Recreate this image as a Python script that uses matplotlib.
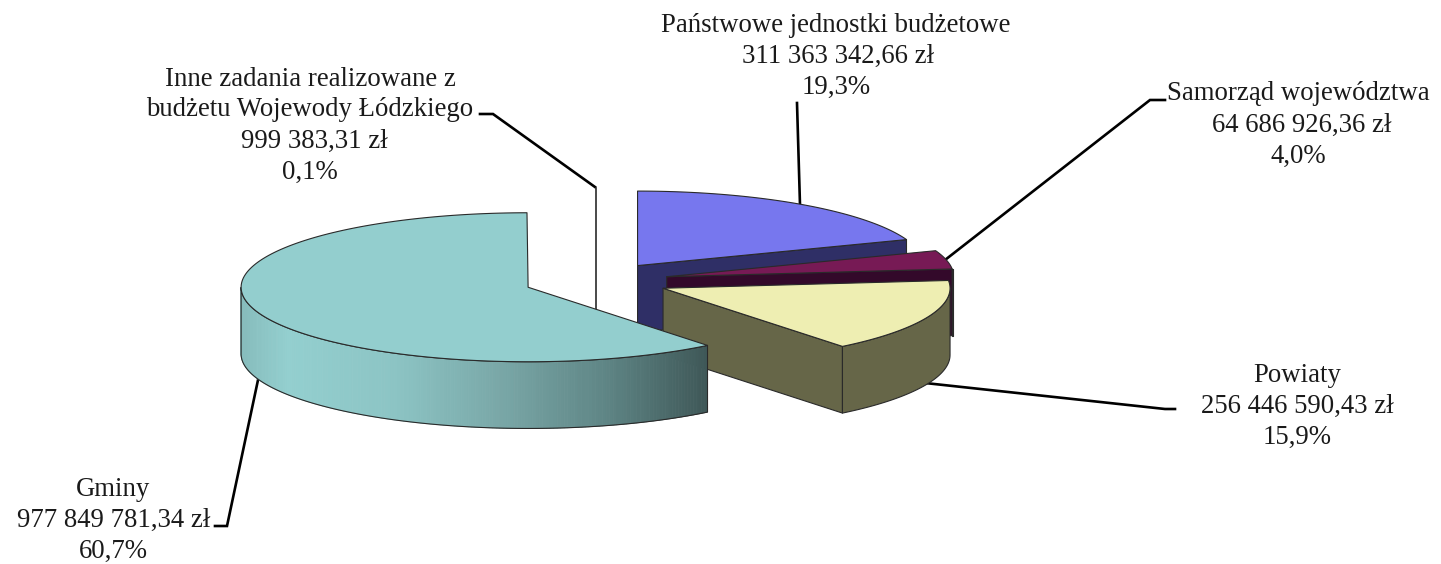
import numpy as np
import matplotlib
matplotlib.use("Agg")
import matplotlib.pyplot as plt
from matplotlib.patches import Polygon
from matplotlib.colors import LinearSegmentedColormap

# ---- data ----
categories = ["Państwowe jednostki budżetowe", "Samorząd województwa", "Powiaty", "Gminy",
              "Inne zadania realizowane z budżetu Wojewody Łódzkiego"]
amounts = [311363342.66, 64686926.36, 256446590.43, 977849781.34, 999383.31]
amount_labels = ["311 363 342,66 zł", "64 686 926,36 zł", "256 446 590,43 zł",
                 "977 849 781,34 zł", "999 383,31 zł"]
percent_labels = ["19,3%", "4,0%", "15,9%", "60,7%", "0,1%"]
label_lines = [
    ["Państwowe jednostki budżetowe"],
    ["Samorząd województwa"],
    ["Powiaty"],
    ["Gminy"],
    ["Inne zadania realizowane z", "budżetu Wojewody Łódzkiego"],
]

# ---- style / layout ----
top_colors = ["#7777ee", "#771a55", "#eeeeb2", "#93cece", "#ffffff"]
side_colors = ["#2f2f66", "#33092a", "#666648", "#93cece", "#ffffff"]
label_x = [836, 1298, 1297, 113, 310]
label_y = [25, 94, 375, 489, 79]
amount_dx = [2, 4, 0, 1, 4]
line_step = 31.0
leaders = [
    ([797, 800], [103, 205]),
    ([1165, 1150, 945], [100, 100, 260]),
    ([1175, 1165, 925], [409, 409, 383]),
    ([215, 227, 258], [526, 526, 380]),
    ([480, 493, 595], [114, 114, 187]),
]
CX, CY = 596.3, 281.0
RX, RY = 287.0, 74.5
DEPTH = 66.7
EXPLODE = 0.252
EDGE = "#2a2a2a"
wall_cmap = LinearSegmentedColormap.from_list(
    "wall", [(0.0, "#86bcbc"), (0.1, "#93cfcf"), (0.33, "#8cc4c4"),
             (0.55, "#7aa8a8"), (0.78, "#5f8686"), (1.0, "#3f5858")])

fig = plt.figure(figsize=(14.41, 5.64), dpi=100, facecolor="white")
ax = fig.add_axes([0, 0, 1, 1])
ax.set_xlim(0, 1441)
ax.set_ylim(564, 0)
ax.axis("off")


def pt(c, a, dy=0.0):
    a = np.asarray(a)
    return np.column_stack([c[0] + RX * np.cos(np.radians(a)),
                            c[1] - RY * np.sin(np.radians(a)) + dy])


def poly(xy, color, z, edge=EDGE, lw=0.8):
    ax.add_patch(Polygon(xy, closed=True, facecolor=color, edgecolor=edge, linewidth=lw,
                         joinstyle="round", zorder=z))


vals = np.array(amounts)
sweep = vals / vals.sum() * 360.0
starts = 90.0 - np.concatenate([[0], np.cumsum(sweep)[:-1]])
ends = starts - sweep
mids = (starts + ends) / 2

# back to front
order = [4, 0, 1, 2, 3]
for z, i in enumerate(order):
    base = 2 + 3 * z
    c = (CX + EXPLODE * RX * np.cos(np.radians(mids[i])),
         CY - EXPLODE * RY * np.sin(np.radians(mids[i])))
    a0, a1 = starts[i], ends[i]
    # cut face along the clockwise edge
    if i in (0, 1, 2):
        p = pt(c, [a1])[0]
        poly([c, p, p + [0, DEPTH], (c[0], c[1] + DEPTH)], side_colors[i], base)
    if i == 4:
        p = pt(c, [a1])[0]
        ax.plot([c[0], c[0], p[0]], [c[1] + DEPTH, p[1], p[1]], color=EDGE, lw=1.2, zorder=base)
    # outer wall (front half only)
    if i == 2:
        arc = np.linspace(0, a1, 60)
        poly(np.vstack([pt(c, arc), pt(c, arc[::-1], DEPTH)]), side_colors[i], base + 1)
    if i == 1:
        # short right-hand strip of the wall
        p = pt(c, [a1])[0]
        poly([p, p + [1, 0], p + [1, DEPTH], p + [0, DEPTH]], side_colors[i], base)
    if i == 3:
        # wall runs from 180 deg through 270 deg to the slice's start angle
        edges = np.linspace(180, a0 + 360, 181)
        x0 = pt(c, [180])[0][0]
        x1 = pt(c, [edges[-1]])[0][0]
        for e0, e1 in zip(edges[:-1], edges[1:]):
            arc = np.linspace(e0, e1, 3)
            xm = pt(c, [(e0 + e1) / 2])[0][0]
            col = wall_cmap((xm - x0) / (x1 - x0))
            ax.add_patch(Polygon(np.vstack([pt(c, arc), pt(c, arc[::-1], DEPTH)]), closed=True,
                                 facecolor=col, edgecolor=col, linewidth=0.6, zorder=base + 1))
        outline = np.vstack([pt(c, edges), pt(c, edges[::-1], DEPTH)])
        ax.add_patch(Polygon(outline, closed=True, fill=False, edgecolor=EDGE, linewidth=0.8,
                             zorder=base + 1.5))
    # top face
    if i != 4:
        arc = np.linspace(a0, a1, 160)
        poly(np.vstack([[c], pt(c, arc)]), top_colors[i], base + 2)

# leader lines
for lx, ly in leaders:
    ax.plot(lx, ly, color="black", lw=1.9, zorder=1, solid_joinstyle="miter")

# labels
for name_lines, amt, pct, x, y, dx in zip(label_lines, amount_labels, percent_labels,
                                          label_x, label_y, amount_dx):
    rows = name_lines + [amt, pct]
    for k, line in enumerate(rows):
        off = dx if line == amt else 0
        ax.text(x + off, y + k * line_step, line, ha="center", va="center", color="#1a1a1a",
                family="Liberation Serif", fontsize=19.3, zorder=30)

fig.savefig("out.png", dpi=100, facecolor="white")
